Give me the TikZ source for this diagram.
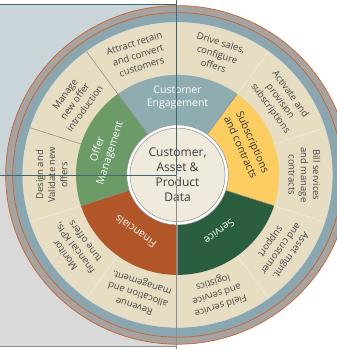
\documentclass[tikz,border=0pt]{standalone}
\usepackage{fontspec}
\setmainfont{Open Sans}

\definecolor{panelblue}{HTML}{CAD6DA}
\definecolor{panelgray}{HTML}{D9D9D9}
\definecolor{panelteal}{HTML}{3E6672}
\definecolor{panelline}{HTML}{8C8C8C}
\definecolor{rimgray}{HTML}{A6A3A0}
\definecolor{rimorange}{HTML}{C8622F}
\definecolor{rimblue}{HTML}{8BA6AF}
\definecolor{beige}{HTML}{E6DDC2}
\definecolor{engage}{HTML}{8FACB0}
\definecolor{offer}{HTML}{6C9B67}
\definecolor{finance}{HTML}{B05628}
\definecolor{service}{HTML}{2B5E3E}
\definecolor{subscr}{HTML}{FCCD61}
\definecolor{core}{HTML}{EFEADB}
\definecolor{coreline}{HTML}{8E8E8E}
\definecolor{sepdark}{HTML}{8E8A80}
\definecolor{seplight}{HTML}{F3EEDF}
\definecolor{txtgray}{HTML}{474747}

\tikzset{
  task/.style={align=center, inner sep=0pt, text=txtgray,
    font=\fontsize{9.5}{12.2}\selectfont},
  area/.style={align=center, inner sep=0pt, text=white,
    font=\fontsize{10.5}{13}\selectfont},
  hub/.style={align=center, inner sep=0pt, text=txtgray!85!black,
    font=\fontsize{12}{15.2}\selectfont},
  sep/.style={line width=0.5pt},
  frame/.style={line width=0.9pt}
}

\begin{document}
\begin{tikzpicture}[x=1.015pt, y=1pt]
	\useasboundingbox (-174.9,-174.1) rectangle (157.1,174.9);

	% backdrop panels
	\fill [panelblue] (-174.9,-0.3) rectangle (-1.2,170);
	\fill [panelgray] (-174.9,-171.6) rectangle (-1.2,-0.3);
	\draw [panelteal, frame] (-174.9,170) -- (-1.2,170);

	% rims
	\fill [rimgray] (0,0) circle (169.3);
	\draw [rimorange, line width=0.7pt] (0,0) circle (169.3);
	\fill [rimblue] (0,0) circle (162.3);
	\draw [rimorange, line width=0.7pt] (0,0) circle (162.3);
	\fill [beige] (0,0) circle (152.5);
	\draw [white!65!rimblue, sep] (0,0) circle (152.5);

	% business areas
	\fill [subscr] (0,0) -- (-18:100) arc (-18:54:100) -- cycle;
	\fill [engage] (0,0) -- (54:100) arc (54:126:100) -- cycle;
	\fill [offer] (0,0) -- (126:100) arc (126:198:100) -- cycle;
	\fill [finance] (0,0) -- (198:100) arc (198:270:100) -- cycle;
	\fill [service] (0,0) -- (270:100) arc (270:342:100) -- cycle;
	\draw [coreline, sep] (54:50) -- (54:100);
	\draw [coreline, sep] (126:50) -- (126:100);
	\draw [coreline, sep] (198:50) -- (198:100);
	\draw [coreline, sep] (270:50) -- (270:100);
	\draw [coreline, sep] (342:50) -- (342:100);

	% task dividers
	\draw [sepdark, sep] (126:100) -- (126:152.5);
	\draw [sepdark, sep] (162:100) -- (162:152.5);
	\draw [seplight, sep] (198:100) -- (198:152.5);
	\draw [seplight, sep] (234:100) -- (234:152.5);
	\draw [seplight, sep] (306:100) -- (306:152.5);
	\draw [seplight, sep] (342:100) -- (342:152.5);
	\draw [seplight, sep] (18:100) -- (18:152.5);
	\draw [seplight, sep] (54:100) -- (54:152.5);

	% hub
	\fill [white] (0,0) circle (50);
	\draw [coreline, sep] (0,0) circle (50);
	\fill [core] (0,0) circle (46.8);
	\draw [coreline, sep] (0,0) circle (46.8);
	\node [hub] (data) at (0,0) {Customer,\\Asset \&\\Product\\Data};

	\node [area] (engagement) at (90:77) {Customer\\Engagement};
	\node [area, text=txtgray!80!black, rotate=-66] (subscriptions) at (24:75) {Subscriptions\\and contracts};
	\node [area, rotate=216] (service) at (306:70) {Service};
	\node [area, rotate=144] (financials) at (234:70) {Financials};
	\node [area, rotate=72] (offermgmt) at (162:76) {Offer\\Management};

	\node [task, rotate=18] (attract) at (108:126) {Attract retain\\and convert\\customers};
	\node [task, rotate=-18] (drive) at (72:127) {Drive sales,\\configure\\offers};
	\node [task, rotate=-54] (activate) at (36:125) {Activate and\\provision\\subscriptions};
	\node [task, rotate=-90] (bill) at (0:125) {Bill services\\and manage\\contracts};
	\node [task, rotate=234] (asset) at (324:125) {Asset mgmt.\\and customer\\support};
	\node [task, rotate=198] (field) at (288:125) {Field service\\and service\\logistics};
	\node [task, rotate=162] (revenue) at (252:125) {Revenue\\allocation and\\management.};
	\node [task, rotate=126] (monitor) at (216:125) {Monitor\\financial KPIs,\\tune offers};
	\node [task, rotate=90] (design) at (180:124) {Design and\\Validate new\\offers};
	\node [task, rotate=54] (manage) at (144:125) {Manage\\new offer\\introduction};

	% panel edges over the wheel
	\draw [panelteal, frame] (-174.9,-0.3) -- (-1.2,-0.3);
	\draw [panelteal, frame] (-1.2,174.9) -- (-1.2,-0.3);
	\draw [panelline, frame] (-1.2,-0.3) -- (-1.2,-174.1);
	\draw [panelline, frame] (-174.9,-171.6) -- (-1.2,-171.6);

\end{tikzpicture}
\end{document}
